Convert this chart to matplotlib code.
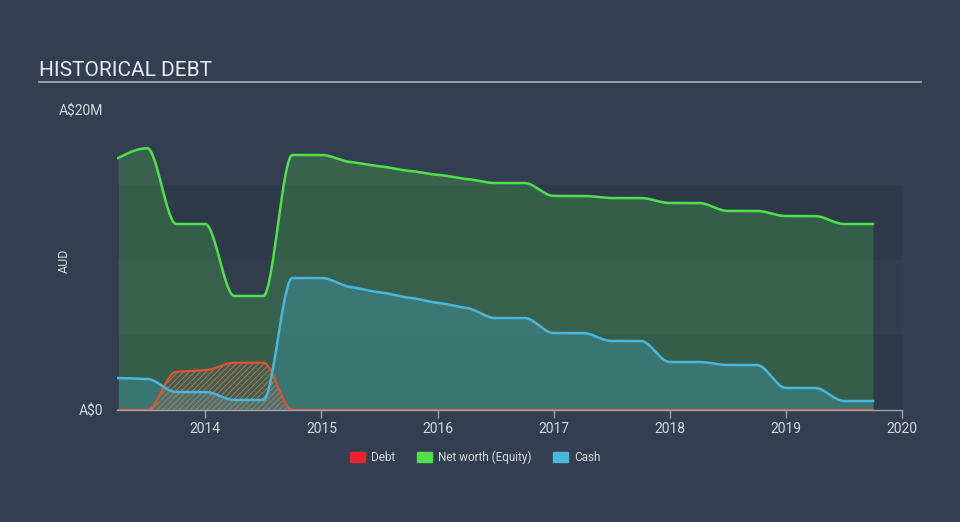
import numpy as np
import matplotlib.pyplot as plt

# quarterly report dates (decimal years) and values in A$ millions
dates = [2013.25, 2013.5, 2013.75, 2014.0, 2014.25, 2014.5, 2014.75, 2015.0,
         2015.25, 2015.5, 2015.75, 2016.0, 2016.25, 2016.5, 2016.75, 2017.0,
         2017.25, 2017.5, 2017.75, 2018.0, 2018.25, 2018.5, 2018.75, 2019.0,
         2019.25, 2019.5, 2019.75]
debt = [0.0, 0.0, 2.55, 2.65, 3.15, 3.15, 0.0, 0.0,
        0.0, 0.0, 0.0, 0.0, 0.0, 0.0, 0.0, 0.0,
        0.0, 0.0, 0.0, 0.0, 0.0, 0.0, 0.0, 0.0,
        0.0, 0.0, 0.0]
equity = [16.8, 17.45, 12.4, 12.4, 7.6, 7.6, 17.0, 17.0,
          16.53, 16.25, 15.95, 15.68, 15.4, 15.13, 15.13, 14.27,
          14.27, 14.13, 14.13, 13.8, 13.8, 13.27, 13.27, 12.93,
          12.93, 12.4, 12.4]
cash = [2.13, 2.07, 1.2, 1.2, 0.67, 0.67, 8.8, 8.8,
        8.2, 7.85, 7.5, 7.15, 6.8, 6.13, 6.13, 5.13,
        5.13, 4.6, 4.6, 3.2, 3.2, 3.0, 3.0, 1.47,
        1.47, 0.6, 0.6]

year_ticks = [2014, 2015, 2016, 2017, 2018, 2019, 2020]

BG = '#333f50'
BAND = '#2e3a4a'
BAND_MID = '#323e4e'
TXT = '#d4d8dc'


def monotone(x, y, n=30):
    """Monotone cubic curve through the points (like d3 curveMonotoneX)."""
    x = np.asarray(x, float)
    y = np.asarray(y, float)
    h = np.diff(x)
    s = np.diff(y) / h
    m = np.zeros_like(y)
    for i in range(1, len(y) - 1):
        if s[i - 1] * s[i] > 0:
            p = (s[i - 1] * h[i] + s[i] * h[i - 1]) / (h[i - 1] + h[i])
            m[i] = np.sign(s[i - 1]) * min(abs(s[i - 1]), abs(s[i]), 0.5 * abs(p))
    m[0] = (3 * s[0] - m[1]) / 2
    m[-1] = (3 * s[-1] - m[-2]) / 2
    xs, ys = [], []
    for i in range(len(h)):
        t = np.linspace(0, 1, n, endpoint=(i == len(h) - 1))
        h00 = 2 * t**3 - 3 * t**2 + 1
        h10 = t**3 - 2 * t**2 + t
        h01 = -2 * t**3 + 3 * t**2
        h11 = t**3 - t**2
        xs.append(x[i] + t * h[i])
        ys.append(h00 * y[i] + h10 * h[i] * m[i] + h01 * y[i + 1] + h11 * h[i] * m[i + 1])
    return np.concatenate(xs), np.clip(np.concatenate(ys), 0, None)


plt.rcParams['font.family'] = ['Roboto', 'DejaVu Sans']
plt.rcParams['hatch.linewidth'] = 0.6

fig = plt.figure(figsize=(9.6, 5.22), dpi=100, facecolor=BG)
ax = fig.add_axes([0.1219, 0.2146, 0.8177, 0.5747])
ax.set_facecolor(BG)

ax.axhspan(0, 5, color=BAND, zorder=0, lw=0)
ax.axhspan(5, 10, color=BAND_MID, zorder=0, lw=0)
ax.axhspan(10, 15, color=BAND, zorder=0, lw=0)

ex, ey = monotone(dates, equity)
cx, cy = monotone(dates, cash)
dx, dy = monotone(dates, debt)

ax.fill_between(ex, 0, ey, color='#4ee14a', alpha=0.22, lw=0, zorder=1)
ax.fill_between(cx, 0, cy, color='#47b7dc', alpha=0.27, lw=0, zorder=2)
ax.fill_between(dx, 0, dy, facecolor=(0.9, 0.3, 0.2, 0.12), edgecolor='#a7806f',
                hatch='//////', lw=0, zorder=3)

ax.plot(dx, dy, color='#e4512f', lw=1.6, zorder=5)
ax.plot(cx, cy, color='#47b7dc', lw=1.8, zorder=5)
ax.plot(ex, ey, color='#4ee14a', lw=1.8, zorder=5)

ax.set_xlim(2013.24, 2020.0)
ax.set_ylim(0, 20)

ax.set_yticks([0, 20])
ax.set_yticklabels(['A$0', 'A$20M'])
ax.set_xticks(year_ticks)
ax.set_xticklabels([str(y) for y in year_ticks])
ax.tick_params(axis='y', length=0, pad=10, labelsize=10, colors=TXT)
ax.tick_params(axis='x', length=6, width=1, color='#9aa3ad', pad=3,
               labelsize=10, labelcolor=TXT)
for k in ['top', 'right', 'left']:
    ax.spines[k].set_visible(False)
ax.spines['bottom'].set_color('#9aa3ad')
ax.spines['bottom'].set_linewidth(1)
ax.spines['bottom'].set_zorder(6)

fig.text(0.0667, 0.5, 'AUD', rotation=90, ha='center', va='center',
         color=TXT, fontsize=9)

# title and rule
fig.text(0.0406, 0.865, 'HISTORICAL DEBT', color='#e8eaec', fontsize=15,
         ha='left', va='center')
fig.add_artist(plt.Line2D([0.0406, 0.959], [0.843, 0.843], color='#a3a8ae', lw=1.3))

# legend
handles = [plt.Rectangle((0, 0), 1, 1, color=c) for c in ['#e8242a', '#4fe04a', '#47b7dc']]
leg = fig.legend(handles, ['Debt', 'Net worth (Equity)', 'Cash'], loc='center',
                 bbox_to_anchor=(0.495, 0.124), ncol=3, frameon=False, fontsize=8.5,
                 handlelength=1.3, handleheight=1.0, columnspacing=1.8, handletextpad=0.5)
for t in leg.get_texts():
    t.set_color(TXT)

fig.savefig('out.png', dpi=100, facecolor=BG)
